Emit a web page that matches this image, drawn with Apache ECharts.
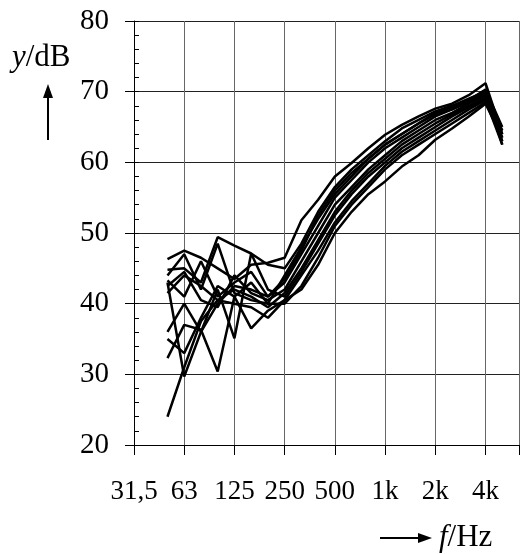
<!DOCTYPE html>
<html><head><meta charset="utf-8">
<script src="https://cdn.jsdelivr.net/npm/echarts@6/dist/echarts.min.js"></script>
<style>html,body{margin:0;padding:0;background:#fff}#c{width:522px;height:554px}</style>
</head><body><div id="c"></div>
<script>
// third-octave band index: 0 = 31,5 Hz, 3 = 63 Hz, ... 21 = 4 kHz, 22 = 5 kHz
const bandIndex = [2,3,4,5,6,7,8,9,10,11,12,13,14,15,16,17,18,19,20,21,22];
const octaveLabels = {0:'31,5',3:'63',6:'125',9:'250',12:'500',15:'1k',18:'2k',21:'4k'};
const yTicks = [20,30,40,50,60,70,80];

const s1  = [46.3,47.5,46.5,45.0,43.5,45.5,45.8,46.5,51.8,54.7,58.0,59.9,62.0,63.9,65.3,66.5,67.6,68.3,69.5,71.2,64.0];
const s2  = [44.8,45.0,43.0,49.4,48.2,47.1,45.5,45.0,48.5,53.0,56.5,59.0,61.0,63.0,64.8,66.0,67.2,68.0,69.0,70.0,63.5];
const s3  = [44.0,47.0,42.0,48.5,41.5,40.5,40.0,44.0,48.0,52.0,55.5,58.0,60.5,62.5,64.0,65.5,67.0,67.8,68.8,70.3,65.0];
const s4  = [43.3,41.0,46.0,41.0,43.0,44.5,41.0,43.0,47.0,51.0,55.0,57.5,60.0,62.0,63.5,65.0,66.5,67.5,68.5,69.8,64.5];
const s5  = [42.5,44.5,40.5,39.5,44.0,41.5,40.5,42.0,46.0,50.0,54.0,56.5,59.0,61.0,63.0,64.5,66.0,67.0,68.3,69.5,63.0];
const s6  = [41.5,44.0,42.5,40.5,42.0,41.0,39.5,41.5,45.0,49.0,53.0,56.0,58.5,60.5,62.5,64.0,65.5,66.8,68.0,69.2,64.0];
const s7  = [36.0,40.0,36.0,42.0,35.1,47.1,42.0,41.0,44.5,48.5,52.5,55.5,58.0,60.0,62.0,63.5,65.0,66.5,67.8,69.0,63.0];
const s8  = [35.0,33.0,38.0,42.5,41.0,36.5,39.0,40.5,44.0,47.5,51.5,54.5,57.0,59.5,61.5,63.0,64.5,66.0,67.5,68.8,62.5];
const s9  = [32.3,37.0,36.3,30.4,41.0,43.0,40.0,40.0,42.5,46.5,51.0,54.0,56.5,59.0,61.0,62.5,64.0,65.5,67.0,68.5,64.5];
const s10 = [24.0,31.0,37.5,40.5,40.0,39.5,38.0,40.5,42.0,45.5,50.0,53.0,55.5,57.3,59.4,61.0,63.2,64.8,66.5,68.3,63.5];
const s11 = [43.0,29.7,36.0,40.0,42.5,42.0,41.0,43.5,47.5,52.5,56.0,58.5,60.5,62.5,64.0,65.5,66.8,67.5,68.7,70.0,62.5];
const allSeries = [s1,s2,s3,s4,s5,s6,s7,s8,s9,s10,s11];

const FONT = '"Liberation Serif","Times New Roman",serif';
const chart = echarts.init(document.getElementById('c'), null, {renderer:'canvas'});
chart.setOption({
  animation:false,
  backgroundColor:'#fff',
  grid:{left:134, top:21, right:-1, bottom:109, containLabel:false},
  xAxis:{
    type:'value', min:0, max:23, interval:3,
    axisLine:{show:true, onZero:false, lineStyle:{color:'#000', width:1}},
    axisTick:{show:true, length:10, lineStyle:{color:'#000'}},
    axisLabel:{margin:33, fontFamily:FONT, fontSize:27, color:'#000',
      formatter:v => octaveLabels[v] !== undefined ? octaveLabels[v] : ''},
    splitLine:{show:true, lineStyle:{color:'#666', width:1}}
  },
  yAxis:[{
    type:'value', min:yTicks[0], max:yTicks[yTicks.length-1], interval:10,
    axisLine:{show:true, lineStyle:{color:'#000', width:1}},
    axisTick:{show:true, length:9, lineStyle:{color:'#000'}},
    axisLabel:{margin:25, fontFamily:FONT, fontSize:29, color:'#000'},
    splitLine:{show:true, lineStyle:{color:'#222', width:1}}
  },{
    type:'value', min:yTicks[0], max:yTicks[yTicks.length-1], interval:10, position:'left',
    axisLine:{show:false},
    axisTick:{show:true, inside:true, length:5, lineStyle:{color:'#000'}},
    minorTick:{show:true, splitNumber:5, length:5, lineStyle:{color:'#000'}},
    axisLabel:{show:false},
    splitLine:{show:false}
  }],
  series: allSeries.map((vals, k) => ({
    name:'S'+(k+1), type:'line', yAxisIndex:0,
    data: bandIndex.map((b,i) => [b, vals[i]]),
    showSymbol:false, symbol:'none',
    lineStyle:{color:'#000', width:2.5},
    z:3
  })),
  graphic:[
    {type:'text', left:12, top:42, style:{
      text:'{i|y}{n|/dB}', rich:{i:{fontFamily:FONT, fontSize:31, fontStyle:'italic', fill:'#000'}, n:{fontFamily:FONT, fontSize:31, fill:'#000'}}}},
    {type:'line', shape:{x1:48, y1:140, x2:48, y2:95}, style:{stroke:'#000', lineWidth:2}},
    {type:'polygon', shape:{points:[[48,84],[43,98],[53,98]]}, style:{fill:'#000'}},
    {type:'line', shape:{x1:380, y1:538, x2:420, y2:538}, style:{stroke:'#000', lineWidth:2}},
    {type:'polygon', shape:{points:[[432,538],[418,533],[418,543]]}, style:{fill:'#000'}},
    {type:'text', left:439, top:522, style:{
      text:'{i|f}{n|/Hz}', rich:{i:{fontFamily:FONT, fontSize:31, fontStyle:'italic', fill:'#000'}, n:{fontFamily:FONT, fontSize:31, fill:'#000'}}}}
  ]
});
</script></body></html>
